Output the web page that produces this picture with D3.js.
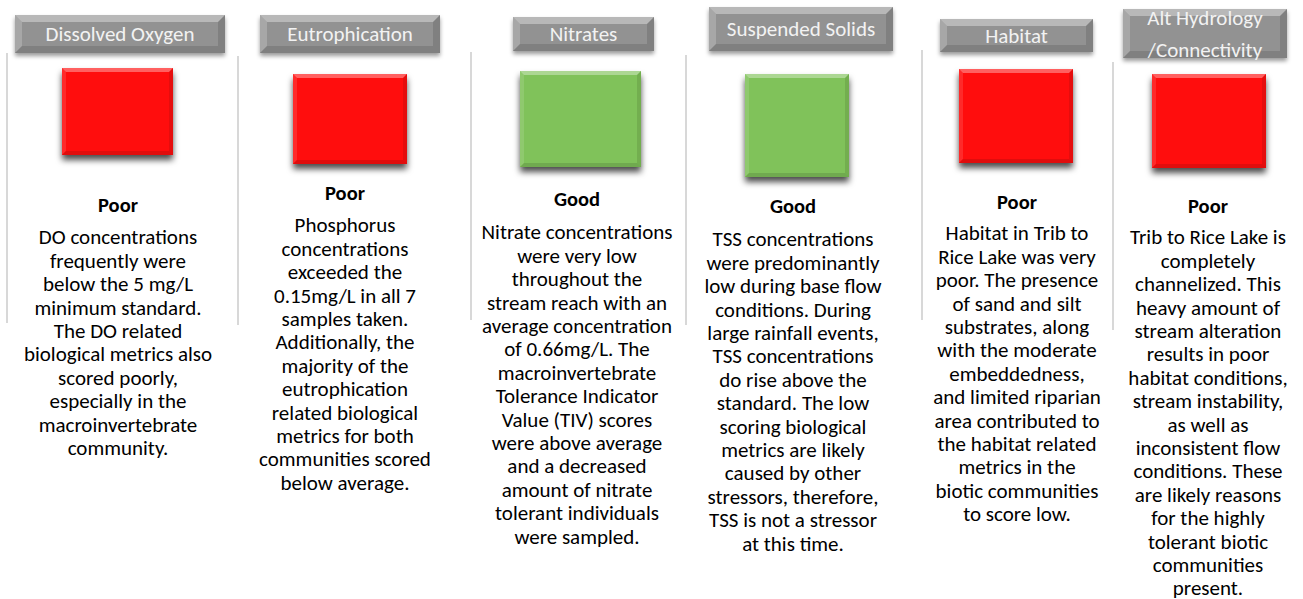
<!DOCTYPE html>
<html>
<head>
<meta charset="utf-8">
<script src="https://cdn.jsdelivr.net/npm/d3@7"></script>
<style>
  body { margin: 0; background: #fff; }
  svg { display: block; font-family: Carlito, Lato, "Open Sans", sans-serif; }
</style>
</head>
<body>
<svg id="chart"></svg>
<script>
/// data ///
const categories = ["Dissolved Oxygen", "Eutrophication", "Nitrates", "Suspended Solids", "Habitat", "Alt Hydrology\n/Connectivity"];
const ratings = ["Poor", "Poor", "Good", "Good", "Poor", "Poor"];
const descriptions = [
  ["DO concentrations", "frequently were", "below the 5 mg/L", "minimum standard.", "The DO related", "biological metrics also", "scored poorly,", "especially in the", "macroinvertebrate", "community."],
  ["Phosphorus", "concentrations", "exceeded the", "0.15mg/L in all 7", "samples taken.", "Additionally, the", "majority of the", "eutrophication", "related biological", "metrics for both", "communities scored", "below average."],
  ["Nitrate concentrations", "were very low", "throughout the", "stream reach with an", "average concentration", "of 0.66mg/L. The", "macroinvertebrate", "Tolerance Indicator", "Value (TIV) scores", "were above average", "and a decreased", "amount of nitrate", "tolerant individuals", "were sampled."],
  ["TSS concentrations", "were predominantly", "low during base flow", "conditions. During", "large rainfall events,", "TSS concentrations", "do rise above the", "standard. The low", "scoring biological", "metrics are likely", "caused by other", "stressors, therefore,", "TSS is not a stressor", "at this time."],
  ["Habitat in Trib to", "Rice Lake was very", "poor. The presence", "of sand and silt", "substrates, along", "with the moderate", "embeddedness,", "and limited riparian", "area contributed to", "the habitat related", "metrics in the", "biotic communities", "to score low."],
  ["Trib to Rice Lake is", "completely", "channelized. This", "heavy amount of", "stream alteration", "results in poor", "habitat conditions,", "stream instability,", "as well as", "inconsistent flow", "conditions. These", "are likely reasons", "for the highly", "tolerant biotic", "communities", "present."]
];

/// layout (hand placed panels, the slide is not on a grid) ///
const width = 1303, height = 599;
const layout = [
  {hx: [15, 225], hy: [15, 53], sq: [62, 173, 68, 155], rule: [7, 53, 323], tx: 118, ry: 205, by: 237},
  {hx: [260, 440], hy: [15, 53], sq: [293, 407, 74, 164], rule: [238, 56, 325], tx: 345, ry: 193, by: 225},
  {hx: [513, 654], hy: [17, 51], sq: [520, 641, 71, 167], rule: [471, 52, 320], tx: 577, ry: 199, by: 232},
  {hx: [709, 893], hy: [7, 51], sq: [745, 849, 74, 177], rule: [686, 55, 325], tx: 793, ry: 206, by: 239},
  {hx: [940, 1093], hy: [19, 52], sq: [959, 1073, 69, 163], rule: [922, 50, 320], tx: 1017, ry: 202, by: 233},
  {hx: [1123, 1287], hy: [9, 58], sq: [1152, 1266, 74, 168], rule: [1113, 62, 330], tx: 1208, ry: 206, by: 237}
];
const lineStep = 23.4;

const color = d3.scaleOrdinal().domain(["Poor", "Good"]).range(["#ff0d0d", "#80c25a"]);

const svg = d3.select("#chart").attr("width", width).attr("height", height);

const defs = svg.append("defs");
const shadow = defs.append("filter").attr("id", "shadow")
  .attr("x", "-20%").attr("y", "-20%").attr("width", "140%").attr("height", "150%");
shadow.append("feDropShadow").attr("dx", 0).attr("dy", 5).attr("stdDeviation", 3)
  .attr("flood-color", "#000").attr("flood-opacity", 0.7);
const hShadow = defs.append("filter").attr("id", "hshadow")
  .attr("x", "-10%").attr("y", "-20%").attr("width", "120%").attr("height", "160%");
hShadow.append("feDropShadow").attr("dx", 0).attr("dy", 3).attr("stdDeviation", 2)
  .attr("flood-color", "#000").attr("flood-opacity", 0.4);

// bevelled box: base rect + four edge trapezoids
function bevel(g, x0, x1, y0, y1, fill, b, ops) {
  const inner = g.append("g");
  inner.append("rect").attr("x", x0).attr("y", y0).attr("width", x1 - x0).attr("height", y1 - y0).attr("fill", fill);
  const edges = [
    {pts: [[x0, y0], [x1, y0], [x1 - b, y0 + b], [x0 + b, y0 + b]], c: "#fff", o: ops[0]},
    {pts: [[x0, y0], [x0 + b, y0 + b], [x0 + b, y1 - b], [x0, y1]], c: "#fff", o: ops[1]},
    {pts: [[x1, y0], [x1, y1], [x1 - b, y1 - b], [x1 - b, y0 + b]], c: "#000", o: ops[2]},
    {pts: [[x0, y1], [x0 + b, y1 - b], [x1 - b, y1 - b], [x1, y1]], c: "#000", o: ops[3]}
  ];
  inner.selectAll("polygon").data(edges).join("polygon")
    .attr("points", d => d.pts.map(p => p.join(",")).join(" "))
    .attr("fill", d => d.c).attr("fill-opacity", d => d.o);
}

const panels = svg.selectAll("g.panel")
  .data(categories.map((c, i) => ({name: c, rating: ratings[i], lines: descriptions[i], L: layout[i]})))
  .join("g").attr("class", "panel");

// vertical separators
panels.append("line")
  .attr("x1", d => d.L.rule[0]).attr("x2", d => d.L.rule[0])
  .attr("y1", d => d.L.rule[1]).attr("y2", d => d.L.rule[2])
  .attr("stroke", "#cbcbcb").attr("stroke-width", 1.5);

// header buttons
panels.each(function(d) {
  const g = d3.select(this).append("g").attr("filter", "url(#hshadow)");
  bevel(g, d.L.hx[0], d.L.hx[1], d.L.hy[0], d.L.hy[1], "#929292", 7, [0.35, 0.2, 0.12, 0.12]);
});
panels.append("text")
  .attr("text-anchor", "middle")
  .attr("fill", "#f2f2f2")
  .attr("font-size", 21)
  .each(function(d) {
    const parts = d.name.split("\n");
    const mid = (d.L.hy[0] + d.L.hy[1]) / 2;
    const y0 = parts.length > 1 ? mid - 16 : mid;
    d3.select(this).selectAll("tspan").data(parts).join("tspan")
      .attr("x", (d.L.hx[0] + d.L.hx[1]) / 2)
      .attr("y", (p, j) => y0 + j * 32)
      .attr("dy", "0.35em")
      .text(p => p);
  });

// rating squares
panels.each(function(d) {
  const g = d3.select(this).append("g").attr("filter", "url(#shadow)");
  const [x0, x1, y0, y1] = d.L.sq;
  bevel(g, x0, x1, y0, y1, color(d.rating), 4, [0.35, 0.12, 0.1, 0.12]);
});

// rating word
panels.append("text")
  .attr("x", d => d.L.tx).attr("y", d => d.L.ry).attr("dy", "0.35em")
  .attr("text-anchor", "middle").attr("font-weight", "bold").attr("font-size", 20.5)
  .attr("fill", "#000")
  .text(d => d.rating);

// description
panels.append("text")
  .attr("text-anchor", "middle").attr("font-size", 21).attr("fill", "#000")
  .each(function(d) {
    d3.select(this).selectAll("tspan").data(d.lines).join("tspan")
      .attr("x", d.L.tx)
      .attr("y", (l, j) => d.L.by + j * lineStep)
      .attr("dy", "0.35em")
      .text(l => l);
  });
</script>
</body>
</html>
